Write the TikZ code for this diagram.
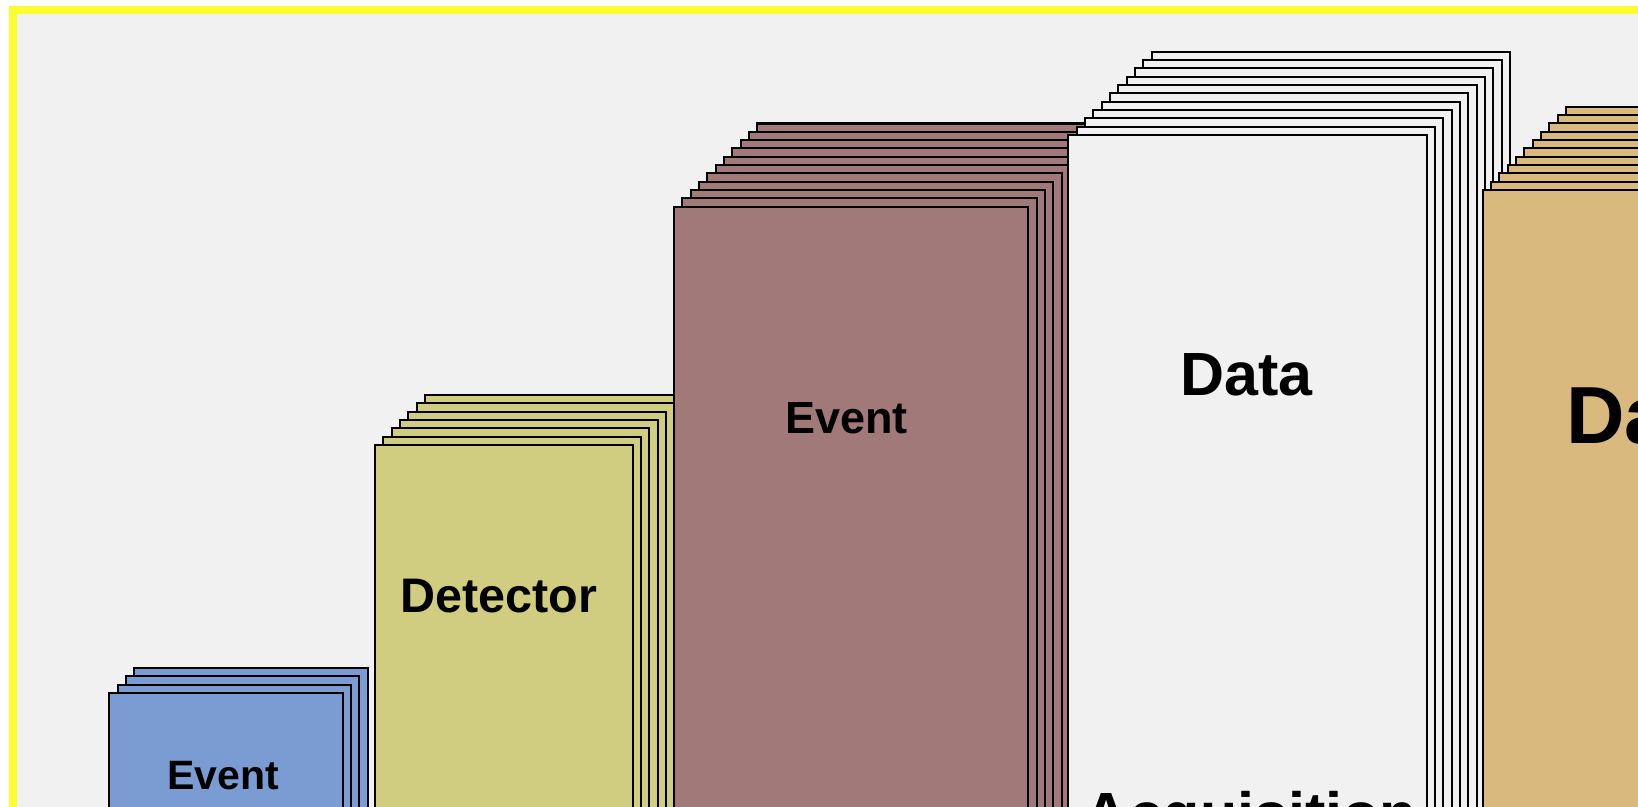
\documentclass[tikz,border=0pt]{standalone}
\usepackage{fontspec}
\setmainfont{Liberation Sans}
\usetikzlibrary{positioning}
\definecolor{Frame}    {HTML}{FCFC2E}
\definecolor{Paper}    {HTML}{F1F1F1}
\definecolor{Sky}      {HTML}{7B9BD3}
\definecolor{Olive}    {HTML}{D0CD80}
\definecolor{Rose}     {HTML}{A07978}
\definecolor{Sand}     {HTML}{DAB97F}
\tikzset{sheet/.style={draw=black, line width=2.2pt},
         tag/.style={font=\bfseries, anchor=base, inner sep=0pt}}

\begin{document}
\begin{tikzpicture}[x=1pt, y=-1pt]
  \clip (0,0) rectangle (1638,806);
  \fill[white]  (0,0)  rectangle (1638,806);
  \fill[Frame]  (9,6)  rectangle (1700,900);
  \fill[Paper]  (17,14) rectangle (1700,900);
  % Stacks, back sheet first
  \foreach \k in {3,...,0}
    \filldraw[sheet, fill=Sky]   (109.3+\k*8.33, 693-\k*8.33)   rectangle ++(233.4,300);
  \foreach \k in {6,...,0}
    \filldraw[sheet, fill=Olive] (375+\k*8.33, 445-\k*8.33)     rectangle ++(257.7,500);
  \foreach \k in {10,...,0}
    \filldraw[sheet, fill=Rose]  (674+\k*8.33, 206.7-\k*8.33)   rectangle ++(354.3,700);
  \foreach \k in {10,...,0}
    \filldraw[sheet, fill=Paper] (1068.3+\k*8.33, 135-\k*8.33)  rectangle ++(358.4,800);
  \foreach \k in {10,...,0}
    \filldraw[sheet, fill=Sand]  (1482.7+\k*8.33, 190-\k*8.33)  rectangle ++(360,800);
  % Labels
  \node[tag, font=\bfseries\fontsize{41}{49}\selectfont] (event1) at (223.3,789.3) {Event};
  \node[tag, font=\bfseries\fontsize{48.5}{58}\selectfont] (detector) at (498.8,612.7) {Detector};
  \node[tag, font=\bfseries\fontsize{45}{54}\selectfont] (event2) at (846.7,433.3) {Event};
  \node[tag, font=\bfseries\fontsize{61}{73}\selectfont] (data1) at (1246.7,395) {Data};
  \node[tag, font=\bfseries\fontsize{61}{73}\selectfont] (acq) at (1251,835.4) {Acquisition};
  \node[tag, anchor=base west, font=\bfseries\fontsize{81}{97}\selectfont] (data2) at (1566,443.3) {Data};
\end{tikzpicture}
\end{document}
